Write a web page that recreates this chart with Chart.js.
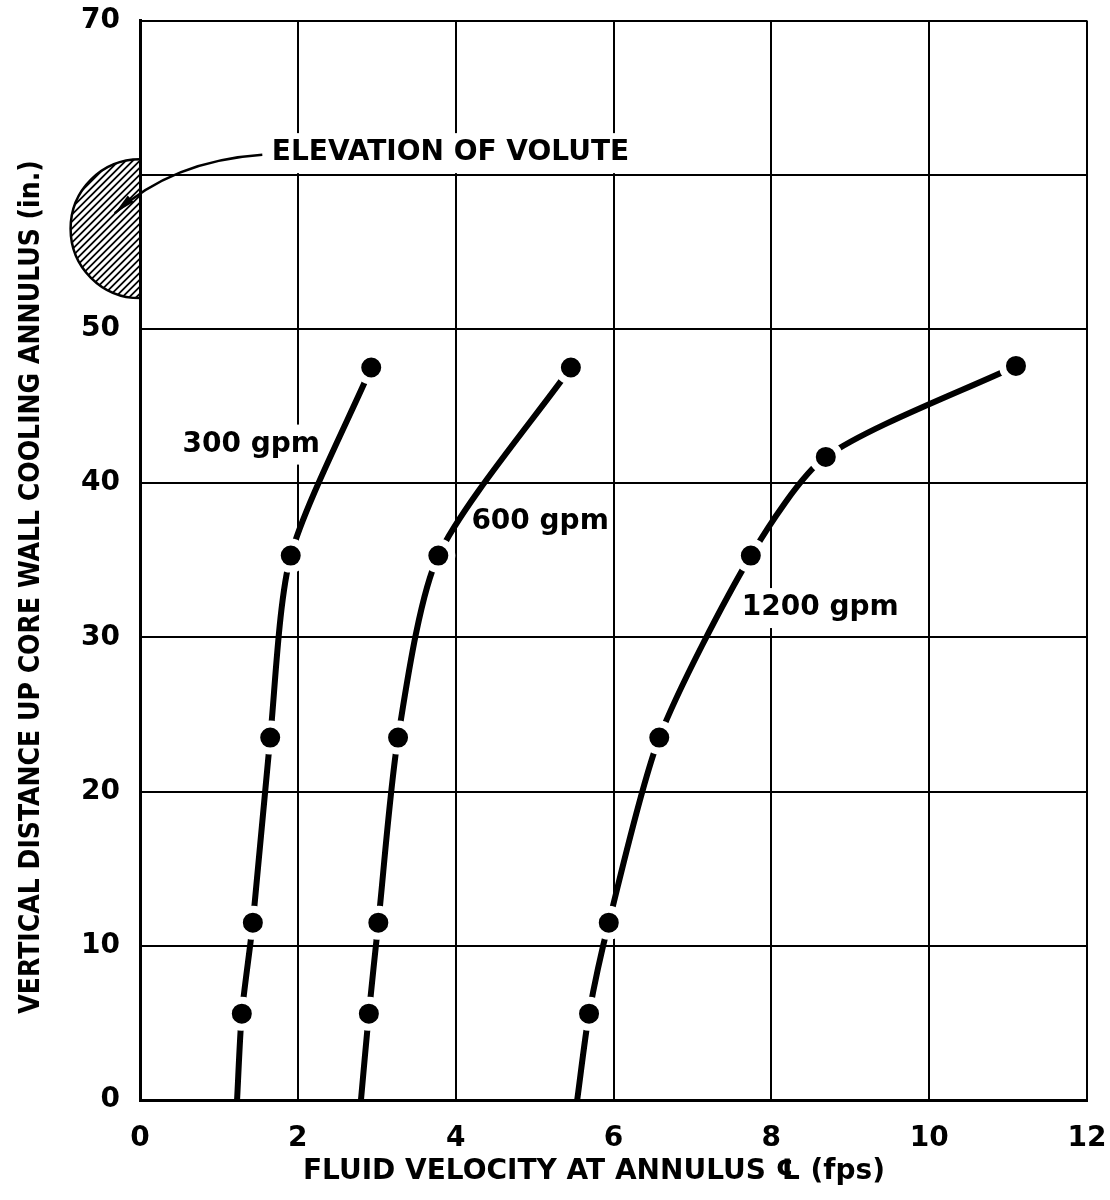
<!DOCTYPE html>
<html>
<head>
<meta charset="utf-8">
<script src="https://cdn.jsdelivr.net/npm/chart.js@4.4.0/dist/chart.umd.min.js"></script>
<style>
  body { margin: 0; background: #fff; }
</style>
</head>
<body>
<canvas id="grafico" width="1110" height="1200"></canvas>
<script>
// valores
const xTicks = [0, 2, 4, 6, 8, 10, 12];
const yTicks = [0, 10, 20, 30, 40, 50, 60, 70];
const yTickLabels = ['0', '10', '20', '30', '40', '50', '', '70'];

const vel300 = [1.23, 1.29, 1.43, 1.65, 1.91, 2.93];
const elev300 = [0, 5.6, 11.5, 23.5, 35.3, 47.5];
const vel600 = [2.80, 2.90, 3.02, 3.27, 3.78, 5.46];
const elev600 = [0, 5.6, 11.5, 23.5, 35.3, 47.5];
const vel1200 = [5.54, 5.69, 5.94, 6.58, 7.74, 8.69, 11.1];
const elev1200 = [0, 5.6, 11.5, 23.5, 35.3, 41.7, 47.6];

const curveLabels = ['300 gpm', '600 gpm', '1200 gpm'];
const labelX = [1.41, 5.07, 8.62];
const labelY = [42.5, 37.5, 31.9];

const xTitle = 'FLUID VELOCITY AT ANNULUS \u2104 (fps)';
const yTitle = 'VERTICAL DISTANCE UP CORE WALL COOLING ANNULUS (in.)';

const voluteCenter = 56.5;   // elevação (in.)
const voluteRadius = 4.5;

const FONTE = '"DejaVu Sans", sans-serif';

function pontos(xs, ys) {
    return xs.map((x, i) => ({ x: x, y: ys[i] }));
}

function serie(xs, ys) {
    return {
        data: pontos(xs, ys),
        showLine: true,
        borderColor: '#000',
        borderWidth: 6,
        tension: 0.25,
        backgroundColor: '#000',
        pointBackgroundColor: '#000',
        pointBorderColor: '#fff',
        pointBorderWidth: xs.map((v, i) => i === 0 ? 0 : 7),
        pointRadius: xs.map((v, i) => i === 0 ? 0 : 13.5),
        pointHoverRadius: 0
    };
}

// texto com fundo branco (interrompe a grade como no original)
function textoComFundo(ctx, t, x, y, align) {
    const w = ctx.measureText(t).width;
    const left = align === 'center' ? x - w / 2 : x;
    ctx.fillStyle = '#fff';
    ctx.fillRect(left - 4, y - 20, w + 8, 40);
    ctx.fillStyle = '#000';
    ctx.textAlign = align;
    ctx.fillText(t, x, y);
}

// rótulos das curvas (desenhados antes das curvas)
const rotulos = {
    id: 'rotulos',
    beforeDatasetsDraw(chart) {
        const ctx = chart.ctx;
        const xs = chart.scales.x;
        const ys = chart.scales.y;
        ctx.save();
        ctx.font = 'bold 28px ' + FONTE;
        ctx.textBaseline = 'middle';
        textoComFundo(ctx, 'ELEVATION OF VOLUTE', xs.getPixelForValue(1.67), ys.getPixelForValue(61.4), 'left');
        curveLabels.forEach((t, i) => {
            textoComFundo(ctx, t, xs.getPixelForValue(labelX[i]), ys.getPixelForValue(labelY[i]), 'center');
        });
        ctx.restore();
    }
};

// voluta, seta e títulos dos eixos
const voluta = {
    id: 'voluta',
    afterDraw(chart) {
        const ctx = chart.ctx;
        const xs = chart.scales.x;
        const ys = chart.scales.y;
        const cx = xs.getPixelForValue(0);
        const cy = ys.getPixelForValue(voluteCenter);
        const r = cy - ys.getPixelForValue(voluteCenter + voluteRadius);

        ctx.save();
        ctx.beginPath();
        ctx.arc(cx, cy, r, Math.PI / 2, Math.PI * 1.5);
        ctx.closePath();
        ctx.save();
        ctx.clip();
        ctx.strokeStyle = '#000';
        ctx.lineWidth = 1.8;
        for (let k = -2 * r; k < 2 * r; k += 7) {
            ctx.beginPath();
            ctx.moveTo(cx - r + k - r, cy + r);
            ctx.lineTo(cx - r + k + r, cy - r);
            ctx.stroke();
        }
        ctx.restore();
        ctx.beginPath();
        ctx.arc(cx, cy, r, Math.PI / 2, Math.PI * 1.5);
        ctx.lineWidth = 2.5;
        ctx.stroke();

        // seta
        const x0 = xs.getPixelForValue(1.55), y0 = ys.getPixelForValue(61.3);
        const x1 = xs.getPixelForValue(-0.32), y1 = ys.getPixelForValue(57.5);
        const qx = x0 - 90, qy = y0 + 6;
        ctx.beginPath();
        ctx.moveTo(x0, y0);
        ctx.quadraticCurveTo(qx, qy, x1, y1);
        ctx.lineWidth = 2.5;
        ctx.stroke();
        const ang = Math.atan2(y1 - qy, x1 - qx);
        ctx.beginPath();
        ctx.moveTo(x1, y1);
        ctx.lineTo(x1 - 22 * Math.cos(ang - 0.2), y1 - 22 * Math.sin(ang - 0.2));
        ctx.lineTo(x1 - 22 * Math.cos(ang + 0.2), y1 - 22 * Math.sin(ang + 0.2));
        ctx.closePath();
        ctx.fillStyle = '#000';
        ctx.fill();

        // títulos dos eixos
        ctx.textAlign = 'center';
        ctx.textBaseline = 'middle';
        ctx.font = 'bold 28px ' + FONTE;
        ctx.fillText(xTitle, 594, 1172);
        ctx.translate(32, 587);
        ctx.rotate(-Math.PI / 2);
        ctx.font = 'bold 28px "DejaVu Sans Condensed", "DejaVu Sans", sans-serif';
        ctx.fillText(yTitle, 0, 0);
        ctx.restore();
    }
};

const ctx = document.getElementById('grafico').getContext('2d');
new Chart(ctx, {
    type: 'scatter',
    data: {
        datasets: [
            serie(vel300, elev300),
            serie(vel600, elev600),
            serie(vel1200, elev1200)
        ]
    },
    options: {
        responsive: false,
        animation: false,
        devicePixelRatio: 1,
        layout: { padding: { top: 18, right: 23, left: 0, bottom: 0 } },
        plugins: { legend: { display: false }, tooltip: { enabled: false } },
        scales: {
            x: {
                type: 'linear',
                position: 'bottom',
                min: 0,
                max: 12,
                afterBuildTicks: s => { s.ticks = xTicks.map(v => ({ value: v })); },
                afterFit: s => { s.height = 100; s.paddingLeft = 0; s.paddingRight = 0; },
                ticks: { color: '#000', font: { family: FONTE, size: 28, weight: 'bold' }, padding: 22 },
                grid: { color: '#000', lineWidth: 2, drawTicks: false },
                border: { color: '#000', width: 3 }
            },
            y: {
                type: 'linear',
                position: 'left',
                min: 0,
                max: 70,
                afterBuildTicks: s => { s.ticks = yTicks.map(v => ({ value: v })); },
                afterFit: s => { s.width = 140; s.paddingTop = 0; s.paddingBottom = 0; },
                ticks: {
                    color: '#000',
                    font: { family: FONTE, size: 28, weight: 'bold' },
                    padding: 20,
                    callback: (v) => yTickLabels[yTicks.indexOf(v)]
                },
                grid: { color: '#000', lineWidth: 2, drawTicks: false },
                border: { color: '#000', width: 3 }
            }
        }
    },
    plugins: [rotulos, voluta]
});
</script>
</body>
</html>
